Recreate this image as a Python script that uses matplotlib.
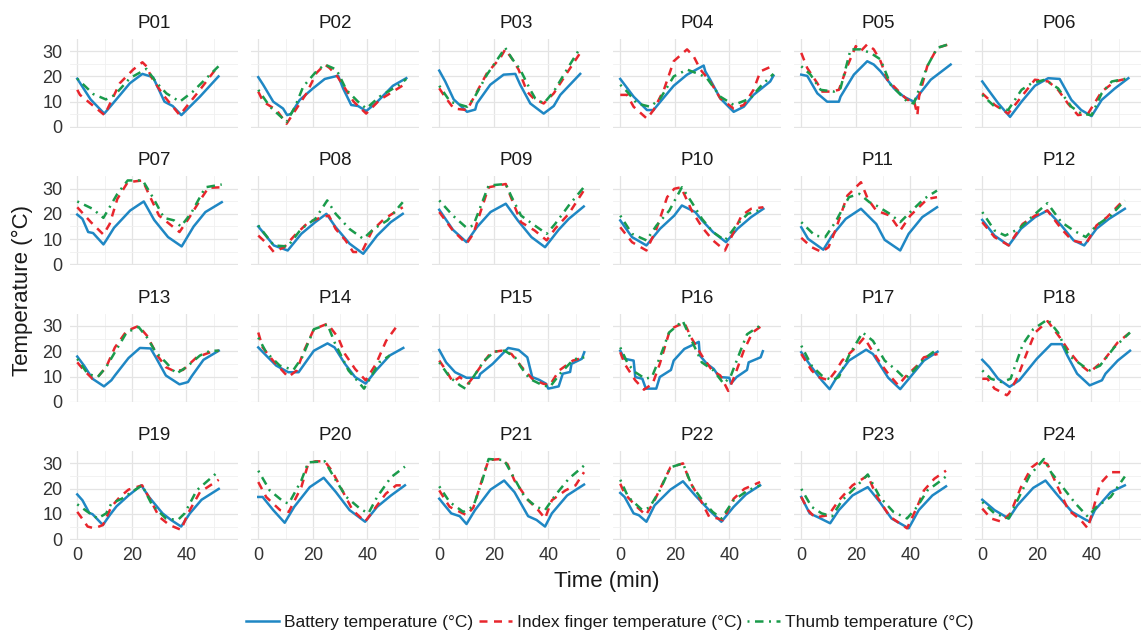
import matplotlib
matplotlib.use("Agg")
import matplotlib.pyplot as plt
from matplotlib.lines import Line2D

plt.rcParams['font.family'] = ['Liberation Sans', 'DejaVu Sans']

participants = ["P%02d" % i for i in range(1, 25)]

# (time in min, temperature in degC)
battery = {
    "P01": [(0,19.1),(4.9,10.9),(9.9,5.3),(12.6,8.7),(19.3,17.3),(23.9,21),(27.8,19.7),(32,10),(35,8.3),(38.2,4.7),(45,12),(51.8,20)],
    "P02": [(0,19.7),(1.8,16.7),(5.5,10),(9.1,7.3),(10.6,4.7),(12,5.2),(15.2,10.7),(20.1,15.3),(24.4,19),(29.3,20.3),(31.1,15.3),(34.1,8.7),(36.6,8.3),(39.6,6.3),(43.3,9.6),(49.4,16.3),(54.3,19.3)],
    "P03": [(0,22.3),(2.2,18),(5.3,10.9),(10.2,6),(13.2,6.9),(13.8,9.3),(18.7,16.7),(23.6,20.7),(27.9,21),(29.7,16.7),(33.4,9.3),(38.3,5.3),(42,8.3),(44.4,12.7),(51.7,21)],
    "P04": [(0,19),(4.9,12),(9.8,6.7),(12.2,6.7),(14.7,10),(19.6,16.3),(24.5,20.7),(30.6,24.3),(31.2,22),(33,18.7),(36.7,11.3),(41.6,6),(45.3,8),(48.9,12.7),(55,18),(56.2,20.3)],
    "P05": [(0,20.7),(2.2,20.2),(5.9,13.3),(9.5,10),(13.8,10),(14.4,12),(19.3,20.7),(24.2,26),(26.6,24.7),(29.1,22),(34,15.3),(37.6,12),(41.3,10),(42.6,12),(47.5,18.7),(54.8,24.7)],
    "P06": [(0,18),(2.2,14.7),(5.9,9.3),(10.2,4),(14.4,10),(19.3,16.3),(24.2,19.3),(28.4,19),(32.7,10.7),(36.3,6.7),(40.1,4.3),(43.8,10.7),(48.7,15.3),(53.6,19.3)],
    "P07": [(0,19.7),(1.9,18),(4,12.8),(5.8,12.4),(9.6,7.9),(10.6,9.5),(13.5,14.5),(19.4,21.3),(24.4,24.9),(28.2,17.6),(33.3,10.8),(38.3,7.1),(42.7,15),(47,20.7),(53,24.6)],
    "P08": [(0,15),(5.7,7.5),(10.8,5.5),(15.8,12.1),(20.9,16.7),(25,20),(28.4,14.7),(33.5,8.2),(38.5,4.2),(43.6,11.4),(48.6,16.7),(53,20)],
    "P09": [(0,21.6),(5,13.7),(10,8.8),(13.8,14.7),(18.8,20.7),(24.4,24),(28.8,17.4),(33.8,10.8),(38.8,6.8),(43.8,13.7),(47.5,18),(53,22.9)],
    "P10": [(0,17.4),(4.3,10.8),(9.6,7.5),(14.6,14.1),(19.8,19.3),(22.6,23.3),(27.5,20.7),(30,17.4),(34,12.8),(38.8,8.8),(43,14.1),(48,18.7),(52.5,22)],
    "P11": [(0,14.7),(2.5,10.1),(8.1,5.8),(11.3,11.4),(16.3,18),(21.9,22),(27.5,16),(30.6,9.7),(36.3,5.5),(39.4,12.1),(44.4,18.7),(49.8,22.6)],
    "P12": [(0,17.6),(4.5,11.4),(9.7,7.5),(14.2,14.1),(19.4,18.7),(23.9,21.3),(29,15.4),(33.5,9.5),(37.4,7.5),(41.9,14.1),(46.5,18),(52.3,22)],
    "P13": [(0,17.9),(2.5,14.3),(5.6,9.1),(9.8,6.1),(12.5,8.5),(13.8,10.4),(18.8,17.3),(23,21.3),(26.9,21.1),(28.8,17.6),(32.5,10.4),(37.5,6.9),(40.6,7.8),(41.9,10),(46.3,16.6),(51.9,20.2)],
    "P14": [(0,21.5),(2.9,18.3),(6.6,14.3),(11,11.7),(14.8,11.7),(20.4,20.2),(25.4,23.1),(28,21.5),(31.8,15),(35.5,9.8),(39.4,7.2),(43.2,12.4),(48.2,18.3),(53.2,21.3)],
    "P15": [(0,20.5),(2.5,15.6),(5.8,11.7),(10,9.5),(14.5,9.5),(15,11),(19.6,15),(25.3,21.3),(29.1,20.5),(32.3,17.6),(34.1,9.8),(36.6,8.7),(39.1,7.2),(40,5.2),(43.8,6.1),(45.3,11.1),(48,11.8),(48.5,15),(52.3,17),(53.2,19.6)],
    "P16": [(0,20.2),(1.6,17),(4.9,16.3),(5.5,9.8),(8.1,9.1),(9.4,5.2),(13.2,5.2),(14.5,9.8),(18.6,12.6),(19.6,16.3),(23.5,20.9),(26,22.2),(28.8,23.7),(29.2,18.3),(31.8,15),(34.3,13),(36.3,9.8),(40,9.5),(40.6,7.2),(42.7,9.8),(46.5,12.6),(47.1,15.6),(51.5,17.6),(52.3,20)],
    "P17": [(0,19.6),(3.8,13.7),(7.5,8.5),(10.4,5),(13.1,9.8),(17.5,16.3),(23.8,20.6),(26.3,18.9),(31.9,9.5),(36.3,5),(40,9.8),(45,16.3),(50,19.8)],
    "P18": [(0,16.6),(2.6,13.7),(5.8,9.1),(10,5.9),(13.6,8.5),(20,17),(25.3,22.8),(29.2,22.8),(31.2,18.3),(34.8,11.1),(39.4,6.5),(43.9,8.5),(45.2,11.1),(49.7,16.3),(54.2,20.2)],
    "P19": [(0,17.7),(1.9,15.4),(4.4,10.4),(5.6,9.9),(9.4,5.6),(11.9,9.5),(14.4,13),(18.8,17.3),(23.5,21.3),(26.3,16.7),(31.3,10.2),(34.4,7.6),(38.1,5),(41.3,10.2),(45.6,15.6),(51.9,19.9)],
    "P20": [(0,16.7),(1.6,16.7),(5.5,11.5),(9.7,6.5),(13.2,12.8),(18.9,20.6),(24,24.3),(28.5,18.6),(33.5,11.5),(39.2,6.9),(43.6,12.8),(48.7,17.3),(53.8,21.3)],
    "P21": [(0,16),(4.4,10.2),(7.5,9.1),(10,6),(13.1,11.5),(18.8,19.6),(23.8,23.2),(27.6,18.6),(32.6,9.1),(35.7,7.6),(38.8,5),(41.3,10.2),(46.9,17.3),(53.1,21.6)],
    "P22": [(0,18.3),(1.6,16.7),(4.9,10.2),(6.8,9.5),(9.6,6.9),(12.6,13.4),(18.4,19.6),(23,22.9),(27.5,17.3),(32.6,11.5),(37.1,6.9),(41.6,12.8),(46.1,17.7),(51.3,21.3)],
    "P23": [(0,16.7),(3.1,10.2),(6.3,8.6),(10.6,6.3),(13.8,11.5),(18.8,17.3),(24.4,20.6),(28.8,14.7),(33.1,8.2),(39.4,4.3),(43.1,11.5),(48.1,17.3),(53.1,20.9)],
    "P24": [(0,15.6),(4.5,11.5),(9.7,8.2),(12.9,13.4),(18.7,20.3),(23.2,23.2),(27.7,17.3),(32.9,10.8),(38.1,7.6),(39.4,7),(41.3,11.5),(47.1,18.6),(52.3,21.3)],
}

index_finger = {
    "P01": [(0,14.7),(1,12.7),(10,4.7),(15.6,17.3),(20.5,22.7),(23.9,25.6),(25.4,24),(27.2,19.7),(31.5,12.7),(37.6,4.7),(45,14.7),(51.8,24.3)],
    "P02": [(0,14),(1.8,10),(6.7,6.7),(10.4,1.3),(12.8,5.3),(17.7,13.3),(21.3,21.3),(24.4,24.7),(26.2,23.3),(29,20),(35,10),(39.6,5.3),(44.5,10.7),(54.3,17.3)],
    "P03": [(0,15.3),(1.6,12.7),(5.3,7.3),(10.2,6.7),(13.2,12.7),(17.5,21.3),(22.4,27.3),(24.2,30.7),(26.9,26.7),(29.1,22.7),(32.2,14),(34.6,11.3),(38.3,9.3),(42,13.3),(46.8,21.3),(51.7,29.3)],
    "P04": [(0,12.7),(2.5,12.7),(4.9,8),(9.8,3.3),(12.2,6.7),(16,14.7),(19.6,26),(24.5,30.7),(26.9,28),(29.4,22.7),(33,18),(36.7,11.3),(41.6,7.3),(45.3,8.7),(48.9,14.7),(51.4,22),(56.2,24.3)],
    "P05": [(0,29.3),(2.2,23.3),(5.9,17.3),(7.7,14),(10.8,14),(13.8,14.7),(16.9,24),(20,32),(21.8,30),(24.2,32.7),(26.6,30.7),(29.1,26),(31.6,18.7),(35.2,14.7),(38.9,10.7),(41.3,10.7),(42.6,4.7),(43.2,12),(46.2,24),(49.9,31.3),(54.8,32.9)],
    "P06": [(0,13.3),(4.6,8.7),(9.5,5.3),(14.4,12),(19.3,18.7),(24.2,18),(27.8,14.7),(31.4,9.3),(35.1,4.7),(38.8,5.3),(43.8,14),(48.7,18),(53.6,19.3)],
    "P07": [(0,22.6),(5,16.7),(9.6,11.8),(11.9,16),(14.7,25.9),(18.5,32.5),(24,33.2),(26.5,27.2),(30,19.3),(33.8,16),(37.5,12.8),(41.2,18.7),(45,25.3),(48.1,30.3),(53,30.5)],
    "P08": [(0,11.4),(3.2,8.2),(5.7,4.9),(9.5,6.8),(13.3,11.4),(18.4,16.7),(23.4,18.7),(25.9,19.3),(28.4,14),(32,9.5),(34.8,4.9),(38,4.9),(41.8,13.4),(46.2,18),(53,22.6)],
    "P09": [(0,20.7),(5,13.4),(10,8.2),(12.5,12.1),(18.1,30.5),(24.4,31.8),(27,24.6),(30,16.7),(35,13.4),(39.4,9.5),(42.5,14.1),(47.5,20),(53,29.2)],
    "P10": [(0,14.7),(4.3,8.8),(9.6,5.5),(13.3,14.1),(17.2,26.6),(19.8,29.9),(22.3,30.5),(26.2,21.3),(30,14.7),(34,9.5),(38.4,5.5),(41,11.4),(44.5,19.3),(48,22),(52.5,22.6)],
    "P11": [(0,10.5),(3.8,6.8),(7.5,4.9),(10,6.8),(12.5,13.4),(16.9,27.2),(21.9,32.5),(24.4,25.9),(27.5,21.3),(32.5,19.3),(36.3,13.4),(40,19.3),(46.3,25.9),(49.8,26.6)],
    "P12": [(0,16.7),(4.5,10.8),(9.7,7.5),(14.8,16),(19.4,19.3),(23.9,21.3),(29,14.1),(32.9,9.5),(38.1,8.2),(41.9,15.4),(45.8,18.7),(52.3,25.9)],
    "P13": [(0,15.6),(2.5,12.4),(5.6,9.1),(7.5,9.8),(10.6,13.7),(13.8,21.5),(18.1,28),(22.5,30),(25.6,26.1),(29.4,18.3),(32.5,13.7),(35.6,12.1),(38.8,12.6),(43.8,17.6),(48.8,19.6),(51.9,20.2)],
    "P14": [(0,27.4),(1.6,21.5),(5.4,16.3),(11,9.8),(14.1,12.4),(16.8,20.2),(20.4,28.7),(25.4,30.9),(29.3,25.4),(31.8,18.9),(35.5,13),(39.4,8.5),(43.2,15),(46.9,24.1),(51.3,30.6)],
    "P15": [(0,16.3),(2.5,12.4),(5,7.8),(7.5,9.8),(10.6,7.2),(12.5,9.8),(15,13.7),(19,19.6),(22.8,20.2),(26.5,18.9),(30.3,13.7),(34.1,9.1),(38,7.2),(40.5,6.5),(44,12.4),(49,16.3),(53.2,17.6)],
    "P16": [(0,19.6),(1.6,15),(5.5,8.5),(8.7,4.8),(11.9,7.2),(14.5,15),(18.3,28.7),(20.8,30),(23.5,31.3),(26,25.4),(29.9,18.3),(33.7,12.4),(36.7,10.4),(39.6,4.3),(41.8,9.8),(45.3,20.2),(48.5,27.4),(52.6,30.6)],
    "P17": [(0,18.9),(3.8,12.4),(6.3,9.8),(10,8.5),(12.5,12),(15,16.3),(20,21.5),(23.1,25.4),(25.6,20.9),(28.8,15.6),(31.9,11.1),(35.6,6.5),(38.1,9.8),(42.5,14.3),(45,17.6),(50,18.9)],
    "P18": [(0,9.1),(1.9,9.1),(4.5,5.2),(5.8,4.5),(9,2.6),(9.7,3.3),(13,9.8),(16.2,18.9),(19.4,27.4),(24,31.9),(28.5,25.4),(31.7,20.2),(35.6,15),(39.4,11.7),(44.5,16.3),(49.7,23.5),(54.2,27.4)],
    "P19": [(0,10.8),(1.3,8.9),(3.8,5),(6.3,4.3),(9.4,5.6),(12.5,12.8),(15.6,16.7),(18.8,19.6),(23.8,21.3),(26.9,15.4),(30,8.9),(33.8,5.6),(38.1,3.7),(40.6,10.2),(45,18.6),(51.9,23.5)],
    "P20": [(0,22.6),(2.9,16.7),(8,11.5),(11.2,10.8),(15.8,20.6),(18.3,29.7),(20.9,30.8),(24.4,30.8),(27,27.1),(30.8,19.3),(34.6,11.5),(39.2,6.9),(42.3,11.5),(46.8,18),(50.6,21.3),(53.8,21.3)],
    "P21": [(0,19.3),(3.8,12.8),(10,9.5),(12.5,12.5),(15.6,23.2),(18.1,31.3),(22.5,31.7),(25,29.7),(27.6,23.2),(32.6,15.4),(36.3,11.5),(38.8,8.2),(41.3,15.4),(46.3,19.3),(50,21.3),(53.1,26.5)],
    "P22": [(0,21.9),(1.6,18),(5.5,13.4),(9.4,9.5),(12.6,15.4),(18.4,28.4),(23,30),(25.6,22.6),(29.5,15.4),(32.6,8.9),(35.8,8.2),(37.7,7.5),(41.6,16),(45.5,19.9),(51.3,22.6)],
    "P23": [(0,16.7),(2.5,11.5),(5,8.6),(10,9.5),(13.8,15.4),(18.8,21.3),(24.4,25.2),(27.5,17.3),(32.5,8.9),(38.8,4.3),(42.5,12.8),(45,19.3),(48.8,23.9),(53.1,27.1)],
    "P24": [(0,12.1),(3.2,8.2),(7.1,6.9),(10.3,10.2),(14.2,20.6),(18.1,28.4),(21.3,31),(23.9,29.7),(27.7,20.6),(31.6,11.5),(36.1,7.6),(38.7,4.3),(40.6,11.5),(43.2,21.9),(47.1,26.5),(52.3,26.5)],
}

thumb = {
    "P01": [(0,19.1),(5.9,13),(10.5,10.9),(13.8,12.7),(19.3,19.3),(25.4,23),(29,17.6),(32.7,13.3),(37.6,10),(42.4,14),(51.8,24)],
    "P02": [(0,14.7),(4.3,8),(10.4,2),(13.5,8),(16.5,16),(21.3,22),(24.4,24.7),(28.7,22.7),(32.3,14.7),(36.6,10),(39.6,7.3),(44.5,12),(51.8,16.7),(54.3,19)],
    "P03": [(0,16.3),(4,10),(10.2,8),(12.7,11.3),(17.5,20.7),(21.3,26.7),(24.2,31.3),(26.9,26.7),(29.7,22.7),(33.4,14.7),(35.2,11.3),(38.3,9.3),(42,14),(46.8,22.7),(51.7,31.3)],
    "P04": [(0,16.7),(2.5,14),(6.1,9.3),(11,8),(14.7,11.3),(19.6,20),(24.5,22.7),(29.4,20.7),(31.8,19.3),(36.7,12),(41.6,8.7),(47.7,11.3),(51.4,16),(56.2,21)],
    "P05": [(0,24),(3.4,20.7),(7.1,14.7),(12,14),(14.4,15.3),(18.1,30.7),(21.8,30.7),(25.4,29.3),(29.1,26.7),(32.8,16.7),(38.9,10),(41.3,9.3),(43.8,16.7),(46.2,24),(49.9,31.3),(54.8,33)],
    "P06": [(0,12.7),(4.6,8),(9.5,6.7),(14.4,14.7),(18.1,17.3),(23,18.7),(27.8,15.3),(32.7,8),(36.3,5.3),(40.1,4.7),(43.8,13.3),(47.5,18),(53.6,19.3)],
    "P07": [(0,24.9),(5.6,22),(9.6,18.4),(14.7,27.9),(18.5,33.2),(24,33.2),(28,26),(31.8,18.4),(35.5,17.4),(38,15),(41.8,20.3),(47,30.5),(53,31.6)],
    "P08": [(0,15.4),(5.7,7.5),(10.8,7.1),(15.8,14.1),(20.9,18),(25.3,25.3),(28.4,20),(33.5,14),(38.5,10.1),(42.3,14),(47.4,17.4),(53,24.6)],
    "P09": [(0,25.3),(5,19.3),(10,14.5),(12.5,15.4),(18.1,31.2),(24.4,31.8),(26.3,27.2),(30,19.3),(35,15.4),(39.4,12.1),(42.5,16),(47.5,23.3),(53,30.5)],
    "P10": [(0,19.3),(4.3,12.1),(9.6,9.5),(13.3,15.4),(18,21.3),(22.6,30.5),(26.2,24.6),(30,18),(34,12.8),(38.4,9.5),(43,16),(46.8,20),(52.5,22)],
    "P11": [(0,16.7),(5,11.4),(8.8,10.8),(12.5,16.7),(17.5,26.6),(21.3,27.9),(25,24.6),(27.5,23.3),(32.5,20),(36.3,16.7),(40,20.7),(45,25.9),(49.8,29.2)],
    "P12": [(0,20.7),(4.5,13.4),(8.4,11.4),(13.5,14.1),(18.7,19.3),(23.9,24.2),(29,16.7),(33.5,13.4),(38,10.8),(41.9,15.4),(47.1,19.3),(52.3,25.3)],
    "P13": [(0,17),(3.8,11.1),(7.5,9.8),(10.6,13.7),(13.8,19.6),(18.1,27.4),(22.5,29.6),(25.6,25.4),(28.8,19.6),(32.5,15.6),(36.3,11.1),(40,13.7),(45,18.3),(48.8,20.2),(51.9,20.2)],
    "P14": [(0,25.4),(2.9,19.6),(7.9,14.3),(12.9,12.6),(16.1,17.6),(20.4,28.7),(25.4,30.6),(28,23.5),(33.1,12.4),(38.8,5.2),(40.6,8.5),(44.4,15.6),(48.2,18.3)],
    "P15": [(0,15.6),(3.8,9.8),(7.6,6.5),(9.6,5.2),(12.5,9.8),(16.5,16.3),(20.3,19.9),(24,20.2),(27.8,17.6),(30,13.7),(33.1,9.1),(38,6.5),(40.6,5.9),(44.3,11.1),(49.3,16.8),(53.2,17.6)],
    "P16": [(0,21.5),(2.8,15),(5.5,11.7),(9.2,9.1),(11.6,9.8),(14.8,18.3),(17.9,27.4),(22.9,32),(26.8,22.8),(29.9,15.6),(34.2,12.4),(37.9,7.2),(40.4,9.8),(44.1,20.2),(46.5,26.7),(51.1,30)],
    "P17": [(0,22.2),(3.8,14.3),(7.5,10.4),(11.3,8.5),(13.8,9.8),(17.5,18.3),(22.5,27.4),(26.3,24.1),(30.6,16.3),(35,12.4),(38.1,9.1),(41.3,12.4),(45,17),(50,20.9)],
    "P18": [(0,12.4),(3.2,9.1),(7.1,7.8),(10.4,9.1),(14.9,22.8),(18.7,28.7),(24,32.6),(27.8,27.4),(31.7,18.3),(36.8,14.3),(39.4,12.4),(43.2,14.3),(48.4,21.5),(54.2,27.4)],
    "P19": [(0,13.8),(3.8,10.8),(7.5,8.2),(10.6,10.2),(12.5,14.1),(16.3,16),(21.3,19.6),(23.8,21.3),(27.5,13.4),(32.5,8.2),(36.9,7.6),(39.4,10.2),(43.8,19.3),(51.9,26.9)],
    "P20": [(0,27.1),(4.2,19.3),(9.4,14.7),(11.2,14.1),(15.8,23.2),(18.3,30.4),(24.4,30.8),(28.5,23.2),(32.3,16.7),(37.3,12.1),(40.4,10.2),(43.6,16.7),(48.7,24.5),(53.8,28.7)],
    "P21": [(0,20.9),(3.8,14.7),(8.8,10.8),(12.5,13),(15.6,22.6),(18.1,31.7),(23.8,31.3),(27.6,23.9),(31.3,16.7),(35.6,12.8),(38.8,11.5),(42.5,17.3),(47.5,23.9),(53.1,29.1)],
    "P22": [(0,23.5),(2.9,16.7),(8.1,11.5),(10.7,12.5),(14.5,19.3),(18.4,28.4),(23,30),(26.2,21.3),(30.1,15.4),(33.9,10.8),(37.1,8.2),(41.6,15.4),(46.8,19.3),(51.3,21.3)],
    "P23": [(0,19.9),(3.8,12.8),(7.5,10.2),(11.3,9.1),(15,15.4),(20,20.6),(24.4,25.6),(28.8,16.7),(33.8,10.8),(38.8,8.2),(42.5,12.8),(46.3,19.3),(50,22.2),(53.1,24.8)],
    "P24": [(0,14.7),(4.5,10.2),(9.7,8.2),(13.5,16.7),(17.4,25.2),(22.6,31.7),(25.2,26.5),(30,19.9),(34.2,14.1),(38.7,8.9),(41.9,12.8),(47.1,16.7),(52.3,24.8)],
}

series_labels = ["Battery temperature (°C)", "Index finger temperature (°C)", "Thumb temperature (°C)"]
colors = ["#1f87c4", "#e8262d", "#1a9b4b"]
styles = ["-", (0, (3.2, 2.6)), (0, (0.8, 2.2, 3.4, 2.2))]

W, H = 1141, 637
fig = plt.figure(figsize=(W / 100, H / 100), dpi=100)

txt = "#1a1a1a"
for i, pid in enumerate(participants):
    r, c = divmod(i, 6)
    left = 69.6 + 181 * c
    bottom = 127.5 + 137.4 * r
    ax = fig.add_axes([left / W, 1 - bottom / H, 168.5 / W, 88.5 / H])
    for data, col, ls in zip([battery, index_finger, thumb], colors, styles):
        t = [p[0] for p in data[pid]]
        v = [p[1] for p in data[pid]]
        ax.plot(t, v, color=col, lw=1.8, linestyle=ls)
    ax.set_xlim(-2.81, 59.0)
    ax.set_ylim(-0.2, 34.8)
    ax.set_xticks([0, 20, 40])
    ax.set_xticks([10, 30, 50], minor=True)
    ax.set_yticks([0, 10, 20, 30])
    ax.set_yticks([5, 15, 25], minor=True)
    ax.grid(which="major", color="#e4e4e4", lw=0.9)
    ax.grid(which="minor", color="#f0f0f0", lw=0.6)
    ax.set_axisbelow(True)
    for s in ax.spines.values():
        s.set_visible(False)
    ax.tick_params(which="both", length=0, labelsize=13, labelcolor="#333333")
    ax.tick_params(axis="y", pad=5)
    ax.tick_params(axis="x", pad=5)
    if c != 0:
        ax.set_yticklabels([])
    if r != 3:
        ax.set_xticklabels([])
    ax.set_title(pid, fontsize=13.5, color=txt, pad=8)

fig.text(607 / W, 1 - 581 / H, "Time (min)", ha="center", va="center", fontsize=16, color=txt)
fig.text(22 / W, 1 - 290 / H, "Temperature (°C)", ha="center", va="center",
         rotation=90, fontsize=16, color=txt)

handles = [Line2D([], [], color=col, lw=1.8, linestyle=ls) for col, ls in zip(colors, styles)]
fig.legend(handles, series_labels, loc="center", bbox_to_anchor=(610 / W, 1 - 622 / H),
           ncol=3, frameon=False, fontsize=12.5, handlelength=1.9, handletextpad=0.3,
           columnspacing=0.3, labelcolor=txt)

fig.savefig("out.png", dpi=100)
